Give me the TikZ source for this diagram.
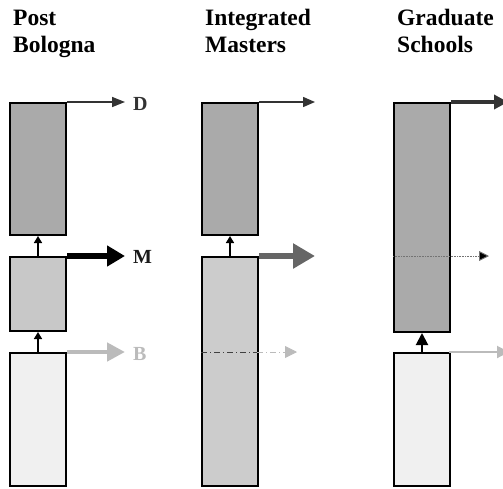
\documentclass[tikz,border=0pt]{standalone}
\usepackage{fontspec}
\setmainfont{Liberation Serif}
\usetikzlibrary{arrows.meta}
\definecolor{dgray}{HTML}{333333}
\definecolor{mgray}{HTML}{666666}
\definecolor{lgray}{HTML}{BBBBBB}
\definecolor{fillD}{HTML}{AAAAAA}
\definecolor{fillM}{HTML}{C8C8C8}
\definecolor{fillI}{HTML}{CCCCCC}
\definecolor{fillB}{HTML}{F0F0F0}
\tikzset{
  box/.style={draw=black, line width=2pt, minimum width=56pt, inner sep=0pt, anchor=north west},
  title/.style={anchor=base west, inner sep=0pt, font=\fontsize{23.5}{27}\selectfont\bfseries},
  lab/.style={anchor=base west, inner sep=0pt, font=\fontsize{20}{22}\selectfont\bfseries},
  uparrow/.style={draw=black, line width=1.6pt, -{Triangle[length=7pt,width=8pt]}},
}
\begin{document}
\begin{tikzpicture}[x=1pt,y=-1pt]
\useasboundingbox (0,0) rectangle (503,488);
% titles
\node[title] (t1a) at (13,25) {Post};
\node[title] (t1b) at (13,52) {Bologna};
\node[title] (t2a) at (205,25) {Integrated};
\node[title] (t2b) at (205,52) {Masters};
\node[title] (t3a) at (397,25) {Graduate};
\node[title] (t3b) at (397,52) {Schools};
% column 1
\node[box, fill=fillD, minimum height=132pt] (d1) at (9,102) {};
\node[box, fill=fillM, minimum height=74pt] (m1) at (9,256) {};
\node[box, fill=fillB, minimum height=133pt] (b1) at (9,352) {};
\node[lab, text=dgray] (ld) at (133,110) {D};
\node[lab, text=black!90] (lm) at (133,263) {M};
\node[lab, text=lgray] (lb) at (133,360) {B};
\coordinate (ed1) at (125,102);
\coordinate (sm1) at (67,256);
\coordinate (em1) at (125,256);
\coordinate (sb1) at (67,352);
\coordinate (eb1) at (125,352);
\draw[dgray, line width=1.5pt, -{Triangle[length=13pt,width=10pt]}] (d1.north east) -- (ed1);
\draw[black, line width=5.5pt, -{Triangle[length=18pt,width=20pt]}] (sm1) -- (em1);
\draw[lgray, line width=4.5pt, -{Triangle[length=18pt,width=18pt]}] (sb1) -- (eb1);
\draw[uparrow] (m1.north) -- (d1.south);
\draw[uparrow] (b1.north) -- (m1.south);
% column 2
\node[box, fill=fillD, minimum height=132pt] (d2) at (201,102) {};
\node[box, fill=fillI, minimum height=229pt] (i2) at (201,256) {};
\coordinate (ed2) at (315,102);
\coordinate (sm2) at (259,256);
\coordinate (em2) at (315,256);
\coordinate (sl2) at (201,352);
\coordinate (ml2) at (257,352);
\coordinate (el2) at (297,352);
\draw[dgray, line width=1.5pt, -{Triangle[length=12pt,width=10pt]}] (d2.north east) -- (ed2);
\draw[mgray, line width=6.5pt, -{Triangle[length=22pt,width=24pt]}] (sm2) -- (em2);
\draw[black!75, line width=1pt, dash pattern=on 6pt off 3pt on 1pt off 3pt] (sl2) -- (ml2);
\draw[lgray, line width=0.8pt, dash pattern=on 6pt off 3pt on 1pt off 3pt, -{Triangle[length=12pt,width=12pt]}] (ml2) -- (el2);
\draw[uparrow] (i2.north) -- (d2.south);
% column 3
\node[box, fill=fillD, minimum height=229pt] (g3) at (393,102) {};
\node[box, fill=fillB, minimum height=133pt] (b3) at (393,352) {};
\coordinate (sd3) at (451,102);
\coordinate (ed3) at (508,102);
\coordinate (sl3) at (393,256);
\coordinate (el3) at (489,256);
\coordinate (sb3) at (449,352);
\coordinate (eb3) at (509,352);
\draw[dgray, line width=4pt, -{Triangle[length=14pt,width=14pt]}] (sd3) -- (ed3);
\draw[black!55, line width=0.9pt, dash pattern=on 1pt off 0.6pt, -{Triangle[length=10pt,width=10pt,fill=black]}] (sl3) -- (el3);
\draw[lgray, line width=2pt, -{Triangle[length=12pt,width=12pt]}] (sb3) -- (eb3);
\draw[draw=black, line width=2pt, -{Triangle[length=12pt,width=12pt]}] (b3.north) -- (g3.south);
\end{tikzpicture}
\end{document}
